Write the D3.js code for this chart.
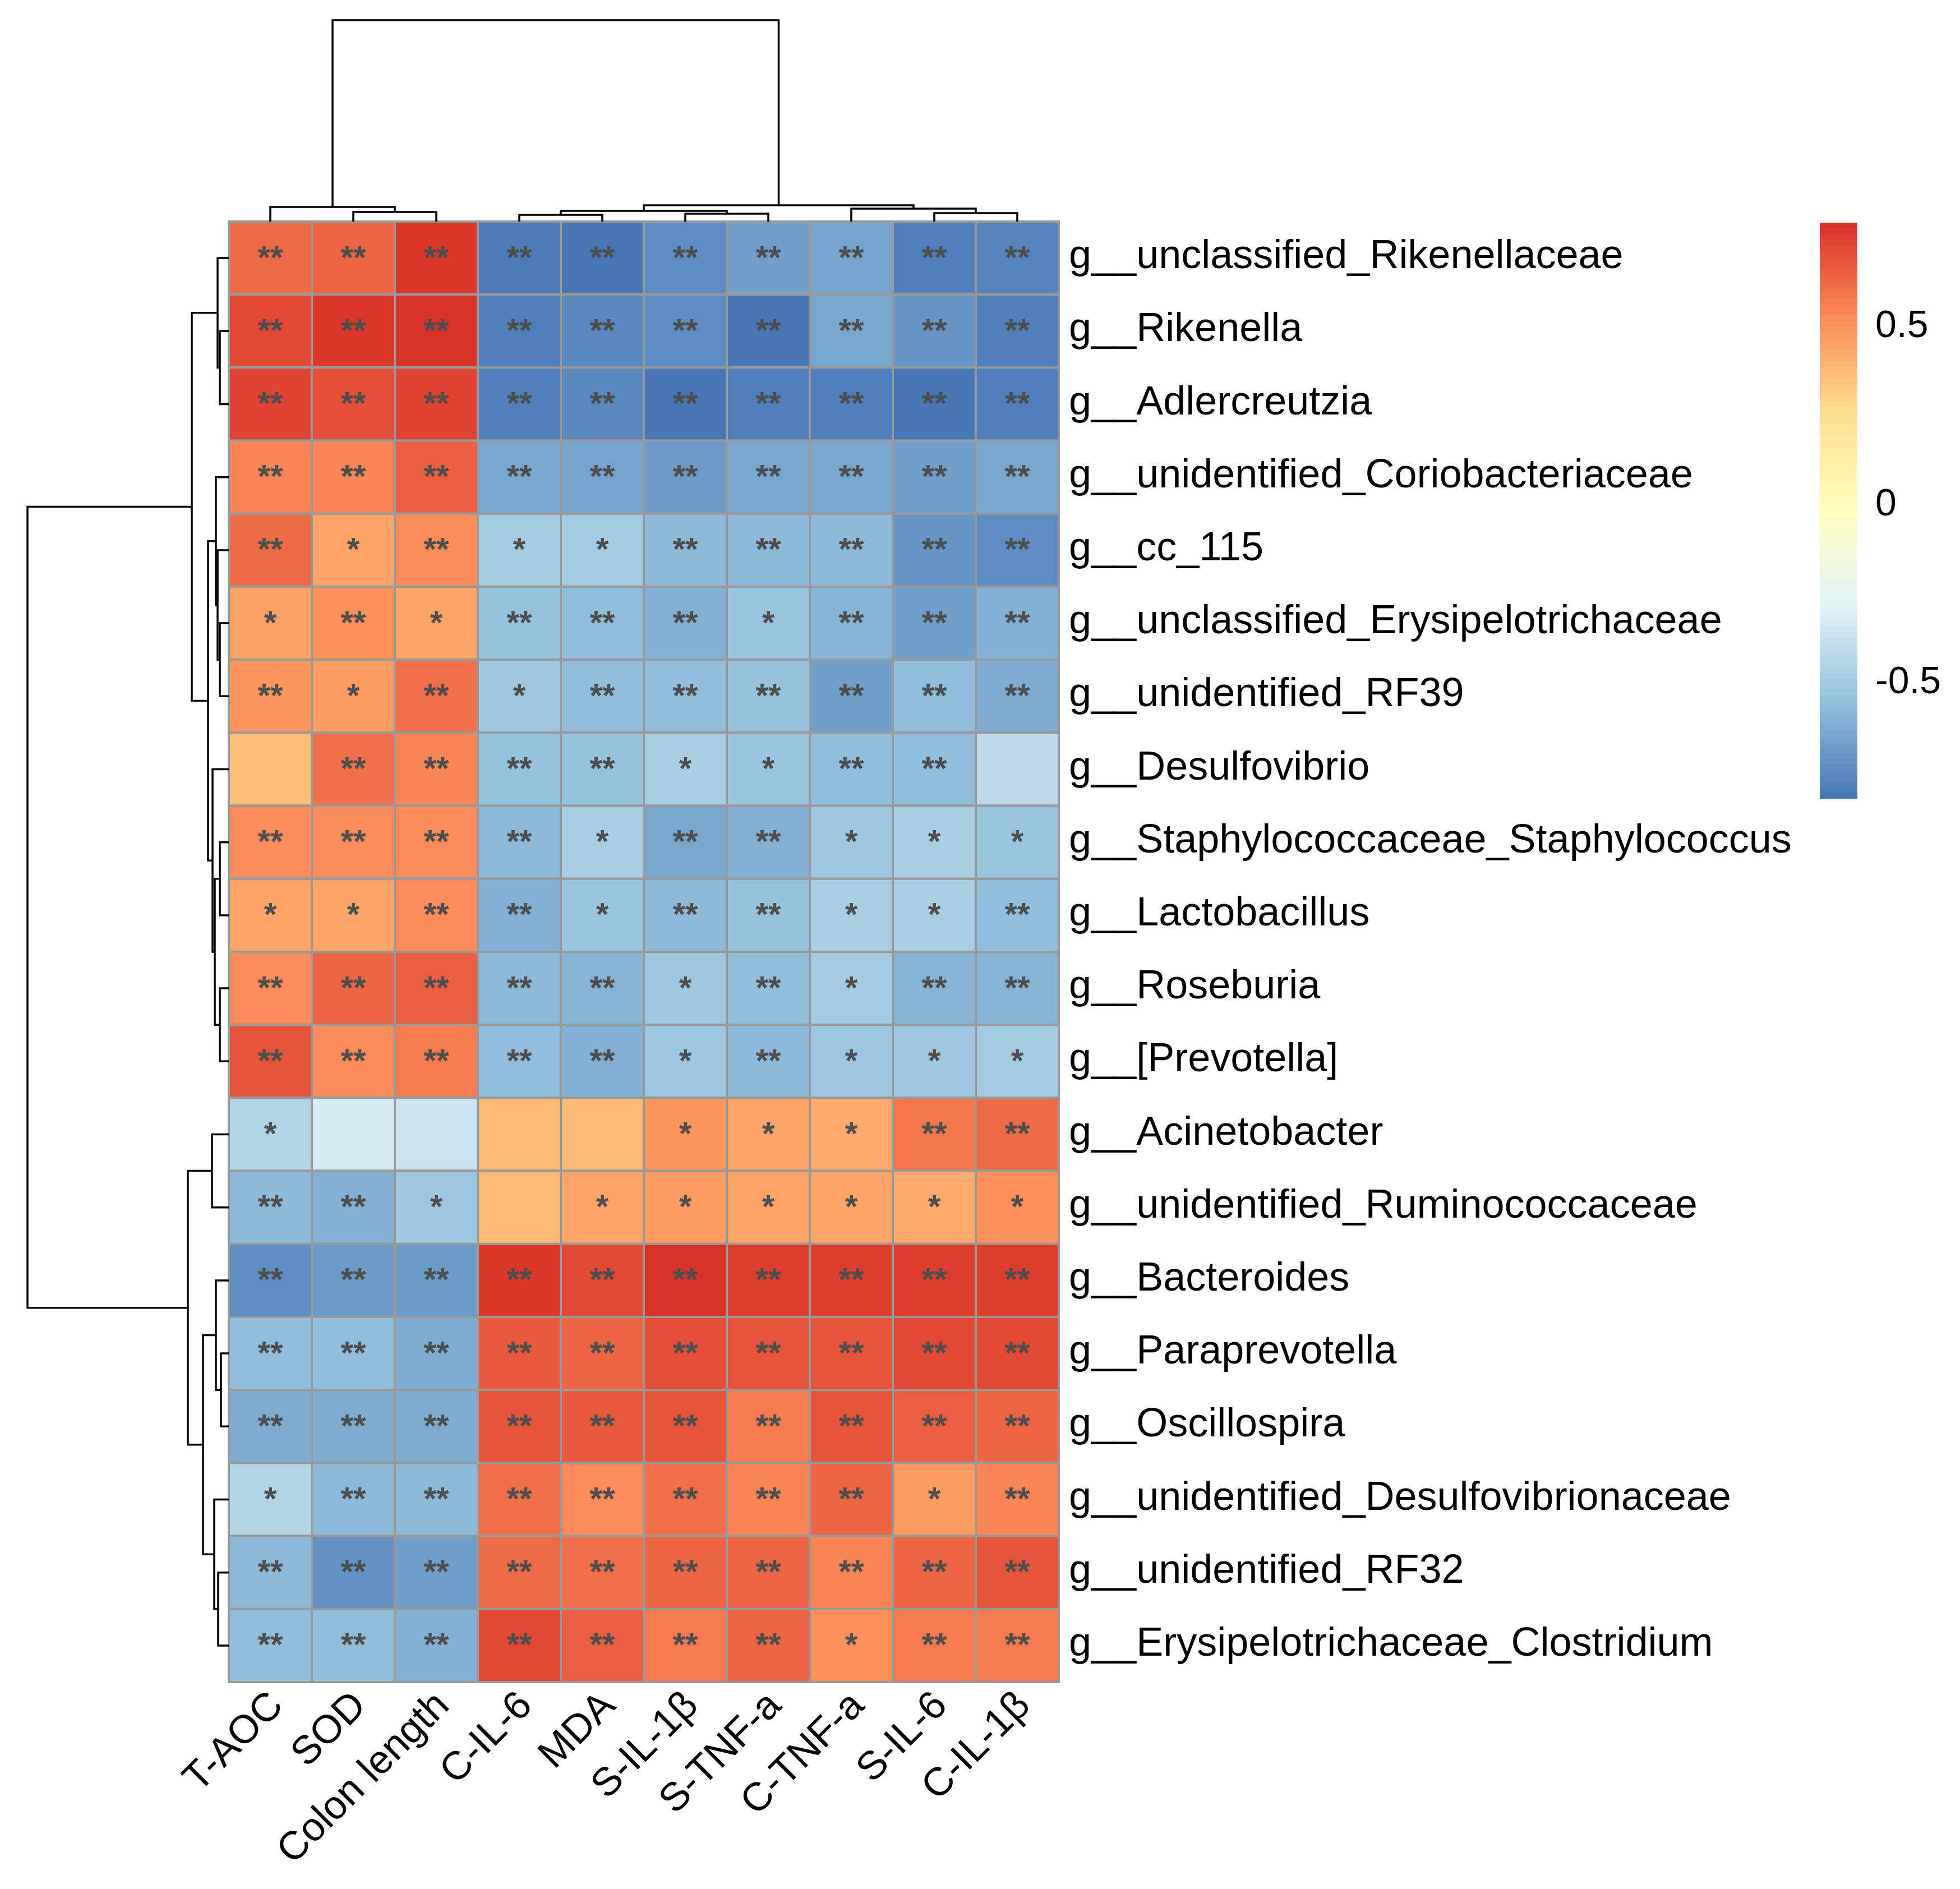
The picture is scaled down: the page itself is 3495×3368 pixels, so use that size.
<!DOCTYPE html>
<html><head><meta charset="utf-8">
<script src="https://cdn.jsdelivr.net/npm/d3@7"></script>
<style>html,body{margin:0;padding:0;background:#fff;} svg{display:block}</style>
</head><body>
<svg id="chart" width="3495" height="3368"></svg>
<script>
// ---------- data ----------
const columns = ["T-AOC","SOD","Colon length","C-IL-6","MDA","S-IL-1β","S-TNF-a","C-TNF-a","S-IL-6","C-IL-1β"];
const rowsLabels = [
  "g__unclassified_Rikenellaceae","g__Rikenella","g__Adlercreutzia","g__unidentified_Coriobacteriaceae",
  "g__cc_115","g__unclassified_Erysipelotrichaceae","g__unidentified_RF39","g__Desulfovibrio",
  "g__Staphylococcaceae_Staphylococcus","g__Lactobacillus","g__Roseburia","g__[Prevotella]",
  "g__Acinetobacter","g__unidentified_Ruminococcaceae","g__Bacteroides","g__Paraprevotella",
  "g__Oscillospira","g__unidentified_Desulfovibrionaceae","g__unidentified_RF32","g__Erysipelotrichaceae_Clostridium"
];
// correlation values, one array per row (same order as rowsLabels), columns as above
const values = [
  [0.62, 0.64, 0.77, -0.80, -0.81, -0.73, -0.675, -0.66, -0.78, -0.76],
  [0.72, 0.77, 0.793, -0.785, -0.755, -0.74, -0.81, -0.64, -0.695, -0.785],
  [0.73, 0.71, 0.74, -0.785, -0.755, -0.824, -0.785, -0.79, -0.81, -0.78],
  [0.54, 0.535, 0.66, -0.63, -0.66, -0.69, -0.63, -0.63, -0.665, -0.64],
  [0.62, 0.45, 0.53, -0.49, -0.49, -0.58, -0.58, -0.58, -0.70, -0.73],
  [0.46, 0.51, 0.45, -0.535, -0.56, -0.61, -0.52, -0.585, -0.67, -0.61],
  [0.50, 0.47, 0.60, -0.51, -0.55, -0.565, -0.545, -0.67, -0.565, -0.62],
  [0.365, 0.60, 0.55, -0.54, -0.54, -0.48, -0.525, -0.555, -0.555, -0.404],
  [0.525, 0.525, 0.52, -0.575, -0.47, -0.63, -0.61, -0.515, -0.475, -0.52],
  [0.45, 0.44, 0.52, -0.61, -0.52, -0.58, -0.545, -0.47, -0.47, -0.565],
  [0.53, 0.64, 0.65, -0.57, -0.595, -0.515, -0.55, -0.49, -0.585, -0.585],
  [0.68, 0.53, 0.58, -0.555, -0.61, -0.505, -0.575, -0.505, -0.505, -0.49],
  [-0.45, -0.315, -0.37, 0.38, 0.38, 0.49, 0.45, 0.43, 0.59, 0.62],
  [-0.575, -0.61, -0.505, 0.38, 0.45, 0.475, 0.445, 0.45, 0.425, 0.505],
  [-0.74, -0.68, -0.68, 0.77, 0.72, 0.78, 0.755, 0.755, 0.755, 0.76],
  [-0.56, -0.56, -0.625, 0.665, 0.645, 0.70, 0.68, 0.695, 0.725, 0.725],
  [-0.625, -0.625, -0.625, 0.68, 0.665, 0.685, 0.575, 0.685, 0.65, 0.64],
  [-0.44, -0.575, -0.575, 0.60, 0.525, 0.60, 0.55, 0.64, 0.47, 0.54],
  [-0.575, -0.72, -0.665, 0.62, 0.615, 0.635, 0.64, 0.55, 0.64, 0.695],
  [-0.56, -0.55, -0.60, 0.725, 0.65, 0.57, 0.64, 0.505, 0.575, 0.575]
];
// significance marks
const stars = [
  ["**","**","**","**","**","**","**","**","**","**"],
  ["**","**","**","**","**","**","**","**","**","**"],
  ["**","**","**","**","**","**","**","**","**","**"],
  ["**","**","**","**","**","**","**","**","**","**"],
  ["**","*","**","*","*","**","**","**","**","**"],
  ["*","**","*","**","**","**","*","**","**","**"],
  ["**","*","**","*","**","**","**","**","**","**"],
  ["","**","**","**","**","*","*","**","**",""],
  ["**","**","**","**","*","**","**","*","*","*"],
  ["*","*","**","**","*","**","**","*","*","**"],
  ["**","**","**","**","**","*","**","*","**","**"],
  ["**","**","**","**","**","*","**","*","*","*"],
  ["*","","","","","*","*","*","**","**"],
  ["**","**","*","","*","*","*","*","*","*"],
  ["**","**","**","**","**","**","**","**","**","**"],
  ["**","**","**","**","**","**","**","**","**","**"],
  ["**","**","**","**","**","**","**","**","**","**"],
  ["*","**","**","**","**","**","**","**","*","**"],
  ["**","**","**","**","**","**","**","**","**","**"],
  ["**","**","**","**","**","**","**","*","**","**"]
];
// hclust-style merges: [left, right, height]; -k = leaf k (1-based), +i = merge i
const rowMerge = [
  [-6,-7,16],[-2,-3,16],[-9,-10,16],[-11,-12,16],[-16,-17,14],[-19,-20,19],
  [-5,1,20],[-1,2,20],[-15,5,23],[-4,7,23],[3,4,25],[-18,6,26],[-8,11,29],
  [-13,-14,30],[10,13,37],[9,12,46],[8,15,66],[14,16,73],[17,18,359]
];
const colMerge = [
  [-4,-5,12],[-6,-7,14],[-9,-10,15],[-2,-3,17],[1,2,19],[-8,3,23],[-1,4,26],[5,6,29],[7,8,358]
];
const legendTicks = [0.5, 0, -0.5];
const paletteColors = ["#4575B4","#91BFDB","#E0F3F8","#FFFFBF","#FEE090","#FC8D59","#D73027"];

// ---------- layout ----------
const svg = d3.select("#chart");
const FONT = "'Liberation Sans', Arial, Helvetica, sans-serif";
const hm = {x0: 408, x1: 1888, y0: 395, y1: 2999};
const x = d3.scaleBand().domain(d3.range(columns.length)).range([hm.x0, hm.x1]);
const y = d3.scaleBand().domain(d3.range(rowsLabels.length)).range([hm.y0, hm.y1]);

const allVals = values.flat();
const vmin = d3.min(allVals), vmax = d3.max(allVals);
const stops = paletteColors.map((c,i)=> vmin + (vmax-vmin)*i/(paletteColors.length-1));
const color = d3.scaleLinear().domain(stops).range(paletteColors).interpolate(d3.interpolateRgb).clamp(true);
// quantize into 100 colours like pheatmap
const nCol = 100;
const quant = v => {
  let k = Math.min(nCol-1, Math.floor((v - vmin)/(vmax - vmin)*nCol));
  return color(vmin + (k + 0.5)/nCol*(vmax - vmin));
};

// ---------- cells ----------
const cells = [];
values.forEach((row, r) => row.forEach((v, c) => cells.push({r, c, v, s: stars[r][c]})));
const g = svg.append("g");
g.selectAll("rect.cell").data(cells).join("rect")
  .attr("x", d => x(d.c)).attr("y", d => y(d.r))
  .attr("width", x.bandwidth()).attr("height", y.bandwidth())
  .attr("fill", d => quant(d.v))
  .attr("stroke", "#999999").attr("stroke-width", 4);
g.selectAll("text.star").data(cells.filter(d => d.s)).join("text")
  .attr("x", d => x(d.c) + x.bandwidth()/2)
  .attr("y", d => y(d.r) + y.bandwidth()/2 - 2)
  .attr("text-anchor", "middle").attr("dominant-baseline", "central")
  .attr("font-family", FONT).attr("font-size", 58).attr("font-weight", "bold").attr("fill", "#4D4D4D")
  .text(d => d.s);

// ---------- labels ----------
svg.append("g").selectAll("text").data(rowsLabels).join("text")
  .attr("x", hm.x1 + 18).attr("y", (d,i) => y(i) + y.bandwidth()/2 - 7)
  .attr("dominant-baseline", "central")
  .attr("font-family", FONT).attr("font-size", 72).attr("fill", "#000")
  .text(d => d);

svg.append("g").selectAll("text").data(columns).join("text")
  .attr("transform", (d,i) => `translate(${x(i) + x.bandwidth()/2 - 10},${hm.y1 + 9}) rotate(-45)`)
  .attr("text-anchor", "end").attr("dy", "0.72em")
  .attr("font-family", FONT).attr("font-size", 71).attr("fill", "#000")
  .text(d => d);

// ---------- dendrograms ----------
function layoutTree(merge, leafPos) {
  const nodes = merge.map(() => null);
  const get = k => k < 0 ? {p: leafPos(-k - 1), h: 0} : nodes[k - 1];
  const segs = [];
  merge.forEach((m, i) => {
    const a = get(m[0]), b = get(m[1]);
    nodes[i] = {p: (a.p + b.p)/2, h: m[2]};
    segs.push({a, b, h: m[2]});
  });
  return segs;
}
const colMax = d3.max(colMerge, d => d[2]);
const colH = d3.scaleLinear().domain([0, colMax]).range([hm.y0, 36]);
const colSegs = layoutTree(colMerge, i => x(i) + x.bandwidth()/2);
svg.append("g").selectAll("path").data(colSegs).join("path")
  .attr("d", s => `M${s.a.p},${colH(s.a.h)}V${colH(s.h)}H${s.b.p}V${colH(s.b.h)}`)
  .attr("fill", "none").attr("stroke", "#000").attr("stroke-width", 3.5);

const rowMax = d3.max(rowMerge, d => d[2]);
const rowH = d3.scaleLinear().domain([0, rowMax]).range([hm.x0, 49]);
const rowSegs = layoutTree(rowMerge, i => y(i) + y.bandwidth()/2);
svg.append("g").selectAll("path").data(rowSegs).join("path")
  .attr("d", s => `M${rowH(s.a.h)},${s.a.p}H${rowH(s.h)}V${s.b.p}H${rowH(s.b.h)}`)
  .attr("fill", "none").attr("stroke", "#000").attr("stroke-width", 3.5);

// ---------- legend ----------
const lg = {x: 3245, w: 67, top: 397, bottom: 1424};
const ly = d3.scaleLinear().domain([vmin, vmax]).range([lg.bottom, lg.top]);
const legStep = (vmax - vmin)/nCol;
const legData = d3.range(nCol).map(k => vmin + k*legStep);
svg.append("g").selectAll("rect").data(legData).join("rect")
  .attr("x", lg.x).attr("width", lg.w)
  .attr("y", d => ly(d + legStep)).attr("height", d => ly(d) - ly(d + legStep) + 0.6)
  .attr("fill", d => quant(d + legStep/2));
svg.append("g").selectAll("text").data(legendTicks).join("text")
  .attr("x", 3344).attr("y", d => ly(d) - 6)
  .attr("dominant-baseline", "central")
  .attr("font-family", FONT).attr("font-size", 68).attr("fill", "#000")
  .text(d => String(d));
</script>
</body></html>
